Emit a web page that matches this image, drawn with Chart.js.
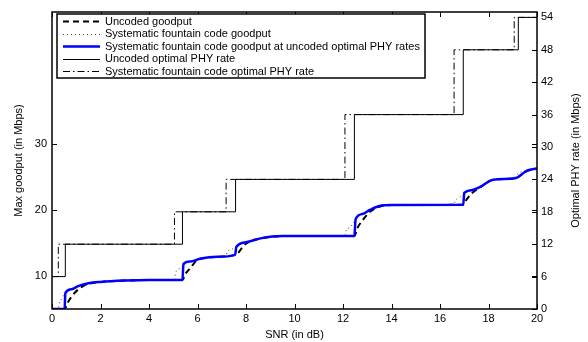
<!DOCTYPE html>
<html><head><meta charset="utf-8">
<script src="https://cdn.jsdelivr.net/npm/chart.js@4"></script>
<style>html,body{margin:0;padding:0;background:#fff}</style>
</head><body>
<canvas id="c" width="588" height="342"></canvas>
<script>
// ---- tick labels ----
const snrTicks = [0, 2, 4, 6, 8, 10, 12, 14, 16, 18, 20];
const goodputTicks = [10, 20, 30];
const phyTicks = [0, 6, 12, 18, 24, 30, 36, 42, 48, 54];

// ---- series ----
const uncodedSnr = [0, 0.52, 0.65, 0.95, 1.3, 1.6, 2.0, 3.0, 4.0, 5.38, 5.5, 5.7, 5.95, 6.1, 6.8, 7.55, 7.7, 7.9, 8.2, 8.6, 9.5, 12.47, 12.6, 12.8, 13.1, 13.5, 14.0, 16.96, 17.1, 17.3, 17.65, 18.2, 19.1, 19.3, 19.6, 20];
const uncodedGoodput = [5, 5, 6.0, 7.5, 8.5, 8.9, 9.1, 9.3, 9.4, 9.4, 10.3, 11.2, 12.3, 12.6, 12.9, 13.2, 13.6, 14.6, 15.3, 15.7, 16.05, 16.05, 17.3, 18.4, 19.7, 20.5, 20.75, 20.8, 21.6, 22.5, 23.4, 24.6, 24.8, 25.2, 25.9, 26.3];

const fountainSnr = [0, 0.26, 0.3, 0.4, 0.55, 0.8, 1.1, 1.5, 2.0, 3.0, 4.0, 5.05, 5.1, 5.3, 5.5, 5.7, 6.1, 6.8, 7.18, 7.22, 7.4, 7.6, 8.0, 8.6, 9.5, 12.08, 12.12, 12.3, 12.52, 12.8, 13.1, 13.5, 14.0, 16.58, 16.62, 16.8, 17.0, 17.3, 17.65, 18.2, 19.06, 19.1, 19.6, 20];
const fountainGoodput = [5, 5, 5.8, 6.6, 7.5, 8.0, 8.5, 8.9, 9.1, 9.3, 9.4, 9.4, 10.5, 11.2, 11.9, 12.2, 12.6, 12.9, 13.1, 13.6, 14.0, 14.5, 15.1, 15.7, 16.05, 16.05, 16.8, 17.4, 18.6, 19.4, 20.0, 20.6, 20.75, 20.8, 21.3, 21.9, 22.5, 23.0, 23.5, 24.6, 24.8, 25.1, 26.0, 26.3];

const fountainAtUncodedSnr = [0, 0.52, 0.55, 0.8, 1.1, 1.5, 2.0, 3.0, 4.0, 5.38, 5.42, 5.7, 6.1, 6.8, 7.55, 7.6, 8.0, 8.6, 9.5, 12.47, 12.52, 12.8, 13.1, 13.5, 14.0, 16.96, 17.0, 17.3, 17.65, 18.2, 19.1, 19.6, 20];
const fountainAtUncodedGoodput = [5, 5, 7.4, 8.0, 8.5, 8.9, 9.1, 9.3, 9.4, 9.4, 11.8, 12.2, 12.6, 12.9, 13.2, 14.4, 15.1, 15.7, 16.05, 16.05, 18.6, 19.4, 20.0, 20.6, 20.75, 20.8, 22.6, 23.0, 23.5, 24.6, 24.8, 26.0, 26.3];

const uncodedPhySnr = [0, 0.55, 5.38, 7.57, 12.47, 16.96, 19.23, 20];
const uncodedPhyRate = [6, 12, 18, 24, 36, 48, 54, 54];
const fountainPhySnr = [0, 0.26, 5.05, 7.18, 12.08, 16.58, 19.06, 20];
const fountainPhyRate = [6, 12, 18, 24, 36, 48, 54, 54];

const seriesLabels = [
  'Uncoded goodput',
  'Systematic fountain code goodput',
  'Systematic fountain code goodput at uncoded optimal PHY rates',
  'Uncoded optimal PHY rate',
  'Systematic fountain code optimal PHY rate'
];

const pts = (xs, ys) => xs.map((x, i) => ({ x: x, y: ys[i] }));
const FONT = { family: "'Liberation Sans', Arial, Helvetica, sans-serif", size: 11 };
const FONTSTR = "11px 'Liberation Sans', Arial, Helvetica, sans-serif";

const datasets = [
  { label: seriesLabels[0], data: pts(uncodedSnr, uncodedGoodput), yAxisID: 'y',
    borderColor: '#000', borderWidth: 2, borderDash: [6, 4], cubicInterpolationMode: 'monotone', order: 2 },
  { label: seriesLabels[1], data: pts(fountainSnr, fountainGoodput), yAxisID: 'y',
    borderColor: '#444', borderWidth: 1, borderDash: [1, 3], cubicInterpolationMode: 'monotone', order: 3 },
  { label: seriesLabels[2], data: pts(fountainAtUncodedSnr, fountainAtUncodedGoodput), yAxisID: 'y',
    borderColor: '#0000ff', borderWidth: 2.5, borderDash: [], cubicInterpolationMode: 'monotone', order: 1 },
  { label: seriesLabels[3], data: pts(uncodedPhySnr, uncodedPhyRate), yAxisID: 'y2',
    borderColor: '#000', borderWidth: 1, borderDash: [], stepped: true, order: 4 },
  { label: seriesLabels[4], data: pts(fountainPhySnr, fountainPhyRate), yAxisID: 'y2',
    borderColor: '#000', borderWidth: 1, borderDash: [7, 3, 1.5, 3], stepped: true, order: 5 }
];
datasets.forEach(d => { d.showLine = true; d.pointRadius = 0; d.pointHoverRadius = 0; d.fill = false; d.backgroundColor = d.borderColor; });

const TICKLEN = 5;
const framePlugin = {
  id: 'frame',
  afterDatasetsDraw(chart) {
    const ctx = chart.ctx;
    const a = chart.chartArea;
    const xs = chart.scales.x, ys = chart.scales.y, y2 = chart.scales.y2;
    ctx.save();
    ctx.strokeStyle = '#000';
    ctx.lineWidth = 1.5;
    ctx.setLineDash([]);
    ctx.strokeRect(Math.round(a.left), Math.round(a.top), Math.round(a.right - a.left), Math.round(a.bottom - a.top));
    ctx.lineWidth = 1;
    ctx.beginPath();
    snrTicks.forEach(v => {
      const px = Math.round(xs.getPixelForValue(v)) + 0.5;
      ctx.moveTo(px, a.bottom); ctx.lineTo(px, a.bottom - TICKLEN);
      ctx.moveTo(px, a.top); ctx.lineTo(px, a.top + TICKLEN);
    });
    goodputTicks.forEach(v => {
      const py = Math.round(ys.getPixelForValue(v)) + 0.5;
      ctx.moveTo(a.left, py); ctx.lineTo(a.left + TICKLEN, py);
      ctx.moveTo(a.right, py); ctx.lineTo(a.right - TICKLEN, py);
    });
    phyTicks.forEach(v => {
      const py = Math.round(y2.getPixelForValue(v)) + 0.5;
      ctx.moveTo(a.right, py); ctx.lineTo(a.right - TICKLEN, py);
    });
    ctx.stroke();

    // right axis title (reads bottom-to-top)
    ctx.fillStyle = '#000';
    ctx.font = FONTSTR;
    ctx.textAlign = 'center';
    ctx.textBaseline = 'middle';
    ctx.translate(576, (a.top + a.bottom) / 2);
    ctx.rotate(-Math.PI / 2);
    ctx.fillText('Optimal PHY rate (in Mbps)', 0, 0);
    ctx.restore();

    // legend
    ctx.save();
    const bx = a.left + 5, by = a.top + 2, bw = 368, rowH = 12.6, bh = rowH * 5 + 1;
    ctx.fillStyle = '#fff';
    ctx.fillRect(bx, by, bw, bh);
    ctx.strokeStyle = '#000';
    ctx.lineWidth = 1.5;
    ctx.strokeRect(bx, by, bw, bh);
    ctx.font = FONTSTR;
    ctx.textAlign = 'left';
    ctx.textBaseline = 'middle';
    datasets.forEach((d, i) => {
      const cy = by + 7 + i * rowH;
      ctx.beginPath();
      ctx.strokeStyle = d.borderColor;
      ctx.lineWidth = d.borderWidth;
      ctx.setLineDash(d.borderDash || []);
      ctx.moveTo(bx + 6, Math.round(cy) + 0.5);
      ctx.lineTo(bx + 43, Math.round(cy) + 0.5);
      ctx.stroke();
      ctx.setLineDash([]);
      ctx.fillStyle = '#000';
      ctx.fillText(d.label, bx + 48, cy + 0.5);
    });
    ctx.restore();
  }
};

new Chart(document.getElementById('c'), {
  type: 'scatter',
  data: { datasets: datasets },
  plugins: [framePlugin],
  options: {
    responsive: false,
    devicePixelRatio: 1,
    animation: false,
    events: [],
    layout: { padding: { top: 12, left: 0, right: 0, bottom: 0 } },
    plugins: { legend: { display: false }, tooltip: { enabled: false } },
    scales: {
      x: {
        type: 'linear', min: 0, max: 20,
        afterBuildTicks: s => { s.ticks = snrTicks.map(v => ({ value: v })); },
        afterFit: s => { s.height = 33; },
        ticks: { font: FONT, color: '#000', padding: 3, maxRotation: 0, autoSkip: false },
        grid: { display: false, drawTicks: false },
        border: { display: false },
        title: { display: true, text: 'SNR (in dB)', font: FONT, color: '#000', padding: { top: 4, bottom: 0 } }
      },
      y: {
        type: 'linear', position: 'left', min: 5, max: 50,
        afterBuildTicks: s => { s.ticks = goodputTicks.map(v => ({ value: v })); },
        afterFit: s => { s.width = 52; },
        ticks: { font: FONT, color: '#000', padding: 5 },
        grid: { display: false, drawTicks: false },
        border: { display: false },
        title: { display: true, text: 'Max goodput (in Mbps)', font: FONT, color: '#000', padding: { top: 12, bottom: 0 } }
      },
      y2: {
        type: 'linear', position: 'right', min: 0, max: 55,
        afterBuildTicks: s => { s.ticks = phyTicks.map(v => ({ value: v })); },
        afterFit: s => { s.width = 51; },
        ticks: { font: FONT, color: '#000', padding: 4 },
        grid: { display: false, drawTicks: false },
        border: { display: false },
        title: { display: false }
      }
    }
  }
});
</script>
</body></html>
